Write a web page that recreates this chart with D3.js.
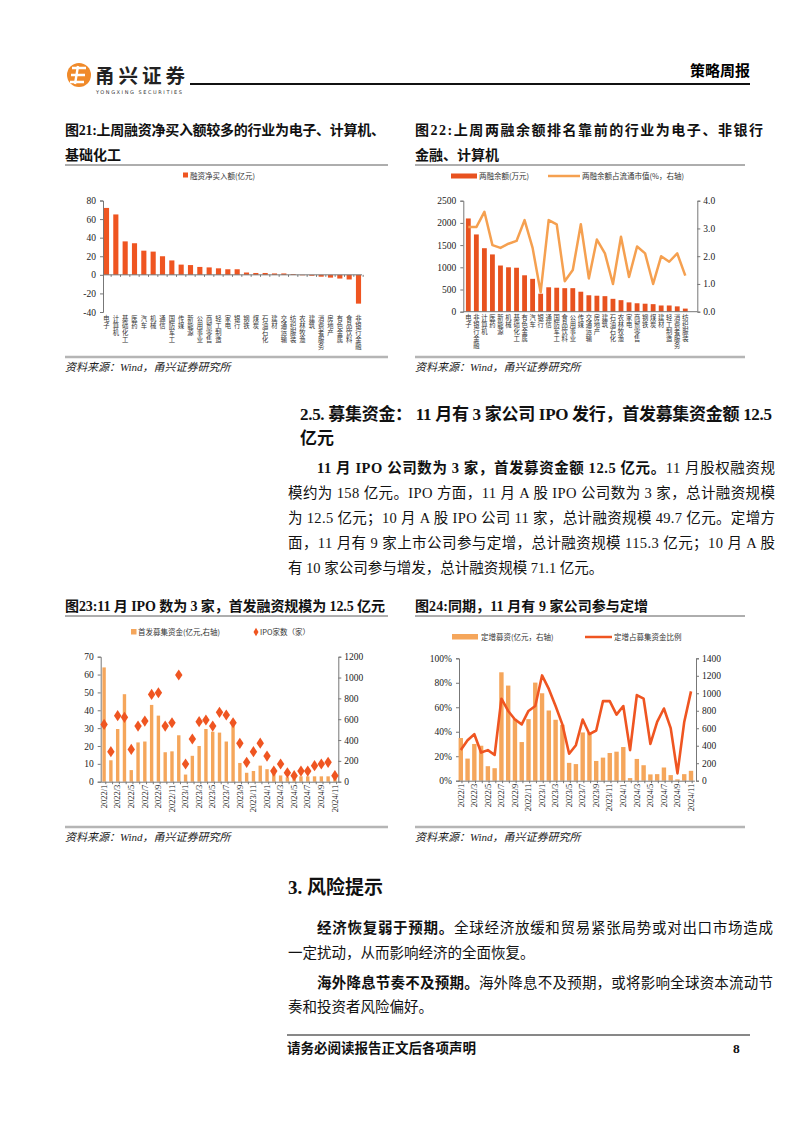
<!DOCTYPE html>
<html>
<head>
<meta charset="utf-8">
<script src="https://cdn.jsdelivr.net/npm/d3@7"></script>
<style>
  body { margin: 0; background: #fff; }
  svg { display: block; }
  .tick text { font-family: "Liberation Serif", "Noto Sans CJK SC"; }
</style>
</head>
<body>
<script>
// ---- data ----
const cats21 = ["电子","计算机","基础化工","医药","汽车","机械","通信","国防军工","传媒","新能源","公用事业","商贸零售","轻工制造","家电","银行","钢铁","煤炭","石油石化","建材","交通运输","纺织服装","农林牧渔","建筑","消费者服务","房地产","有色金属","食品饮料","非银行金融"];
const netBuy21 = [72, 65, 36, 34, 26, 25, 20, 15.5, 11, 10.5, 8.5, 8, 7, 6, 6, 2.5, 2, 2, 1.5, 1.5, 0.8, -0.5, -1, -2, -3, -4, -5, -31];
const ticks21 = [-40, -20, 0, 20, 40, 60, 80];

const cats22 = ["电子","非银行金融","计算机","医药","新能源","机械","基础化工","有色金属","汽车","银行","通信","国防军工","食品饮料","公用事业","传媒","交通运输","房地产","建筑","石油石化","农林牧渔","家电","商贸零售","钢铁","煤炭","建材","轻工制造","消费者服务","纺织服装"];
const balance22 = [2100, 1740, 1430, 1290, 1040, 1000, 990, 820, 740, 405, 550, 540, 530, 530, 450, 370, 360, 350, 290, 260, 210, 190, 180, 170, 140, 140, 120, 70];
const ratio22 = [3.05, 3.05, 3.6, 2.4, 2.3, 2.45, 2.55, 3.3, 2.3, 0.7, 3.3, 3.15, 1.1, 1.5, 3.15, 1.2, 2.6, 2.1, 1.0, 2.7, 1.25, 2.35, 2.1, 1.0, 2.0, 1.8, 2.1, 1.3];
const ticks22L = [0, 500, 1000, 1500, 2000, 2500];
const ticks22R = [0, 1, 2, 3, 4];

const months = [];
for (let y = 2022; y <= 2024; y++) for (let m = 1; m <= 12; m++) if (!(y === 2024 && m === 12)) months.push(y + "/" + m);

const ipoBar23 = [64, 12, 29.5, 49, 6.5, 22, 22.5, 43, 37, 16.5, 17, 26, 4, 14.5, 20, 29.5, 28, 27.5, 22.5, 33, 10.5, 5, 6, 9, 7, 5.5, 3.5, 2.5, 1.8, 3, 3, 3, 3, 3, 3];
const ipoDot23 = [550, 288, 634, 618, 310, 534, 582, 838, 854, 534, 566, 1024, 170, 410, 576, 592, 534, 666, 640, 566, 368, 186, 288, 370, 246, 102, 170, 86, 58, 102, 102, 154, 170, 186, 58];
const ticks23L = [0, 10, 20, 30, 40, 50, 60, 70];
const ticks23R = [0, 200, 400, 600, 800, 1000, 1200];

const dzAmt24 = [488, 253, 420, 400, 166, 143, 1240, 1088, 708, 442, 704, 1122, 1000, 803, 697, 640, 204, 190, 552, 545, 226, 264, 317, 332, 385, 30, 249, 177, 72, 75, 151, 64, 15, 75, 113];
const dzRatio24 = [0.25, 0.33, 0.38, 0.23, 0.25, 0.21, 0.67, 0.57, 0.50, 0.46, 0.57, 0.61, 0.86, 0.75, 0.61, 0.46, 0.22, 0.29, 0.50, 0.38, 0.41, 0.65, 0.65, 0.54, 0.61, 0.25, 0.70, 0.67, 0.30, 0.48, 0.59, 0.43, 0.06, 0.48, 0.73];
const ticks24L = [0, 0.2, 0.4, 0.6, 0.8, 1.0];
const ticks24R = [0, 200, 400, 600, 800, 1000, 1200, 1400];

const SERIF = '"Liberation Serif", "Noto Sans CJK SC"';
const CJK = '"Noto Sans CJK SC", sans-serif';
const RED = "#ef5521";
const LIGHT = "#f5a65b";
const plain = d => String(d);   // "-40", "2500" (no comma, ascii minus)

const svg = d3.select("body").append("svg").attr("width", 802).attr("height", 1133);

// ---- header ----
const logo = svg.append("g");
logo.append("circle").attr("cx", 79).attr("cy", 75).attr("r", 12).attr("fill", "#f08a2a");
logo.append("path").attr("d", "M72 68 L86 68 M71 75 L85 75 M70 82 L84 82 M78 66 L75 84")
  .attr("stroke", "#fff").attr("stroke-width", 2.4).attr("fill", "none");
svg.append("text").attr("x", 95).attr("y", 83).attr("font-family", CJK).attr("font-weight", "bold")
  .attr("font-size", 19.5).attr("textLength", 90).attr("fill", "#222").text("甬兴证券");
svg.append("text").attr("x", 96).attr("y", 94).attr("font-family", '"DejaVu Sans"').attr("font-size", 5)
  .attr("textLength", 86).attr("fill", "#333").text("YONGXING SECURITIES");
svg.append("line").attr("x1", 190).attr("x2", 750).attr("y1", 84).attr("y2", 84).attr("stroke", "#111").attr("stroke-width", 2);
svg.append("text").attr("x", 750).attr("y", 76).attr("text-anchor", "end").attr("font-family", CJK)
  .attr("font-weight", "bold").attr("font-size", 15).text("策略周报");

// ---- text helpers ----
function line(x, y, parts, size, len, weight) {
  const t = svg.append("text").attr("x", x).attr("y", y).attr("font-family", SERIF)
    .attr("font-size", size).attr("fill", "#111");
  if (len) t.attr("textLength", len).attr("lengthAdjust", "spacing");
  parts.forEach(p => {
    const s = typeof p === "string" ? { t: p } : p;
    t.append("tspan").attr("font-weight", s.b || weight ? "bold" : null).text(s.t);
  });
  return t;
}
function title(x, y, txt, len) {
  const t = svg.append("text").attr("x", x).attr("y", y).attr("font-family", SERIF)
    .attr("font-weight", "bold").attr("font-size", 14).attr("fill", "#111").text(txt);
  if (len) t.attr("textLength", len).attr("lengthAdjust", "spacing");
}
function source(x, y) {
  svg.append("text").attr("x", x).attr("y", y).attr("font-family", SERIF).attr("font-style", "italic")
    .attr("font-size", 11).attr("fill", "#222").text("资料来源：Wind，甬兴证券研究所");
}
function rule(x1, x2, y, w, c) {
  svg.append("line").attr("x1", x1).attr("x2", x2).attr("y1", y).attr("y2", y).attr("stroke", c).attr("stroke-width", w);
}

// figure titles
title(65, 135, "图21:上周融资净买入额较多的行业为电子、计算机、", 320);
title(65, 160, "基础化工");
title(415, 135, "图22:上周两融余额排名靠前的行业为电子、非银行", 348);
title(415, 160, "金融、计算机");
rule(65, 388, 165, 0.8, "#333");
rule(415, 745, 165, 0.8, "#333");
rule(65, 388, 357, 2.5, "#b5b5b5");
rule(415, 745, 357, 2.5, "#b5b5b5");
source(65, 371);
source(415, 371);

// section 2.5
line(300, 420, ["2.5. 募集资金：  11 月有 3 家公司 IPO 发行，首发募集资金额 12.5"], 17, 472, true);
line(300, 444, ["亿元"], 17, null, true);
line(317, 473, [{ t: "11 月 IPO 公司数为 3 家，首发募资金额 12.5 亿元。", b: true }, "11 月股权融资规"], 14.5, 458);
line(288, 498, ["模约为 158 亿元。IPO 方面，11 月 A 股 IPO 公司数为 3 家，总计融资规模"], 14.5, 487);
line(288, 523, ["为 12.5 亿元；10 月 A 股 IPO 公司 11 家，总计融资规模 49.7 亿元。定增方"], 14.5, 487);
line(288, 548, ["面，11 月有 9 家上市公司参与定增，总计融资规模 115.3 亿元；10 月 A 股"], 14.5, 487);
line(288, 573, ["有 10 家公司参与增发，总计融资规模 71.1 亿元。"], 14.5);

title(65, 611, "图23:11 月 IPO 数为 3 家，首发融资规模为 12.5 亿元", 320);
title(415, 611, "图24:同期，11 月有 9 家公司参与定增", 233);
rule(65, 388, 616, 0.8, "#333");
rule(415, 745, 616, 0.8, "#333");
rule(65, 388, 827, 2.5, "#b5b5b5");
rule(415, 745, 827, 2.5, "#b5b5b5");
source(65, 841);
source(415, 841);

// section 3
line(288, 894, ["3. 风险提示"], 19, null, true);
line(317, 933, [{ t: "经济恢复弱于预期。", b: true }, "全球经济放缓和贸易紧张局势或对出口市场造成"], 14.5, 456);
line(288, 958, ["一定扰动，从而影响经济的全面恢复。"], 14.5);
line(317, 988, [{ t: "海外降息节奏不及预期。", b: true }, "海外降息不及预期，或将影响全球资本流动节"], 14.5, 456);
line(288, 1012, ["奏和投资者风险偏好。"], 14.5);
rule(287, 750, 1035, 1, "#111");
line(287, 1053, ["请务必阅读报告正文后各项声明"], 13.5, null, true);
line(733, 1053, ["8"], 13.5, null, true);

// ---- chart helpers ----
function styleAxis(g, size) {
  g.select(".domain").attr("stroke", "#777");
  g.selectAll(".tick line").attr("stroke", "#777");
  g.selectAll(".tick text").attr("font-size", size || 9).attr("fill", "#222");
}
function vLabel(g, txt, x, y0, size) {
  const t = g.append("text").attr("font-family", CJK).attr("font-size", size)
    .attr("text-anchor", "middle").attr("fill", "#333");
  [...txt].forEach((c, i) => t.append("tspan").attr("x", x).attr("y", y0 + i * size * 1.1).text(c));
}
function legendText(g, x, y, txt) {
  g.append("text").attr("x", x).attr("y", y).attr("font-family", CJK).attr("font-size", 7.5)
    .attr("fill", "#333").text(txt);
}
function monthAxis(g, x, y) {
  const ax = g.append("g").attr("transform", `translate(0,${y})`)
    .call(d3.axisBottom(x).tickSize(0).tickValues(months.filter((d, i) => i % 2 === 0)));
  ax.select(".domain").attr("stroke", "#777");
  ax.selectAll(".tick text").attr("font-size", 8.5).attr("fill", "#222")
    .attr("transform", "rotate(-90)").attr("text-anchor", "end").attr("dx", -3).attr("dy", "0.32em")
    .attr("x", 0).attr("y", 0);
  g.selectAll(null).data(months).enter().append("line")
    .attr("x1", d => x(d) + x.step() / 2).attr("x2", d => x(d) + x.step() / 2)
    .attr("y1", y).attr("y2", y + 2.5).attr("stroke", "#777");
}

// ---- chart 21 ----
{
  const g = svg.append("g");
  const x = d3.scaleBand().domain(cats21).range([103, 362]).paddingInner(0.45).paddingOuter(0.1);
  const y = d3.scaleLinear().domain([-40, 80]).range([312, 200.5]);
  g.append("rect").attr("x", 183).attr("y", 172.5).attr("width", 5).attr("height", 5).attr("fill", RED);
  legendText(g, 190, 178.5, "融资净买入额(亿元)");
  styleAxis(g.append("g").attr("transform", "translate(103,0)").call(d3.axisLeft(y).tickValues(ticks21).tickSize(3).tickPadding(4).tickFormat(plain)), 9.5);
  g.selectAll(".bar").data(cats21).enter().append("rect")
    .attr("x", d => x(d)).attr("width", x.bandwidth())
    .attr("y", (d, i) => y(Math.max(0, netBuy21[i])))
    .attr("height", (d, i) => Math.abs(y(netBuy21[i]) - y(0)))
    .attr("fill", RED);
  g.append("line").attr("x1", 103).attr("x2", 362).attr("y1", y(0)).attr("y2", y(0)).attr("stroke", "#777");
  cats21.forEach(c => g.append("line").attr("x1", x(c) + x.bandwidth() / 2 + x.step() / 2).attr("x2", x(c) + x.bandwidth() / 2 + x.step() / 2)
    .attr("y1", y(0)).attr("y2", y(0) + 2).attr("stroke", "#777"));
  cats21.forEach(c => vLabel(g, c, x(c) + x.bandwidth() / 2, 321, 6.3));
}

// ---- chart 22 ----
{
  const g = svg.append("g");
  const x = d3.scaleBand().domain(cats22).range([464.3, 689.3]).paddingInner(0.4).paddingOuter(0.2);
  const yL = d3.scaleLinear().domain([0, 2500]).range([311.7, 200.7]);
  const yR = d3.scaleLinear().domain([0, 4]).range([311.7, 200.7]);
  g.append("rect").attr("x", 451).attr("y", 173.5).attr("width", 26).attr("height", 5).attr("fill", "#e8521f");
  legendText(g, 479, 179, "两融余额(万元)");
  g.append("line").attr("x1", 548).attr("x2", 580).attr("y1", 176).attr("y2", 176).attr("stroke", "#f5a050").attr("stroke-width", 2.5);
  legendText(g, 582, 179, "两融余额占流通市值(%，右轴)");
  styleAxis(g.append("g").attr("transform", "translate(463.3,0)").call(d3.axisLeft(yL).tickValues(ticks22L).tickSize(3).tickPadding(4).tickFormat(plain)), 9.5);
  styleAxis(g.append("g").attr("transform", "translate(697.3,0)").call(d3.axisRight(yR).tickValues(ticks22R).tickSize(3).tickPadding(3).tickFormat(d3.format(".1f"))), 9.5);
  g.selectAll(".bar").data(cats22).enter().append("rect")
    .attr("x", d => x(d)).attr("width", x.bandwidth())
    .attr("y", (d, i) => yL(balance22[i])).attr("height", (d, i) => yL(0) - yL(balance22[i]))
    .attr("fill", "#e8521f");
  g.append("line").attr("x1", 463.3).attr("x2", 697.3).attr("y1", yL(0)).attr("y2", yL(0)).attr("stroke", "#777");
  g.append("path").datum(ratio22)
    .attr("d", d3.line().x((d, i) => x(cats22[i]) + x.bandwidth() / 2).y(d => yR(d)))
    .attr("fill", "none").attr("stroke", "#f5a050").attr("stroke-width", 2.5).attr("stroke-linejoin", "round");
  cats22.forEach(c => vLabel(g, c, x(c) + x.bandwidth() / 2, 320, 6.3));
}

// ---- chart 23 ----
{
  const g = svg.append("g");
  const x = d3.scaleBand().domain(months).range([100.7, 338.3]).paddingInner(0.5).paddingOuter(0.25);
  const yL = d3.scaleLinear().domain([0, 70]).range([781.7, 656.7]);
  const yR = d3.scaleLinear().domain([0, 1200]).range([781.7, 656.7]);
  g.append("rect").attr("x", 131).attr("y", 629).attr("width", 5.5).attr("height", 5.5).attr("fill", LIGHT);
  legendText(g, 138, 635, "首发募集资金(亿元,右轴)");
  g.append("path").attr("d", d3.symbol(d3.symbolDiamond, 22)()).attr("transform", "translate(256,632)").attr("fill", RED);
  legendText(g, 260, 635, "IPO家数（家）");
  styleAxis(g.append("g").attr("transform", "translate(100.7,0)").call(d3.axisLeft(yL).tickValues(ticks23L).tickSize(3).tickPadding(4).tickFormat(plain)), 9.5);
  styleAxis(g.append("g").attr("transform", "translate(338.3,0)").call(d3.axisRight(yR).tickValues(ticks23R).tickSize(3).tickPadding(3).tickFormat(plain)), 9.5);
  g.selectAll(".bar").data(months).enter().append("rect")
    .attr("x", d => x(d)).attr("width", x.bandwidth())
    .attr("y", (d, i) => yL(ipoBar23[i])).attr("height", (d, i) => yL(0) - yL(ipoBar23[i]))
    .attr("fill", LIGHT);
  monthAxis(g, x, 781.7);
  g.selectAll(".dot").data(months).enter().append("path")
    .attr("d", d3.symbol(d3.symbolDiamond, 36)())
    .attr("transform", (d, i) => `translate(${x(d) + x.bandwidth() / 2},${yR(ipoDot23[i])}) scale(1.15,1)`)
    .attr("fill", RED);
}

// ---- chart 24 ----
{
  const g = svg.append("g");
  const x = d3.scaleBand().domain(months).range([457.4, 694.4]).paddingInner(0.35).paddingOuter(0.175);
  const yL = d3.scaleLinear().domain([0, 1]).range([780.7, 658.3]);
  const yR = d3.scaleLinear().domain([0, 1400]).range([780.7, 658.3]);
  g.append("rect").attr("x", 452).attr("y", 634).attr("width", 26).attr("height", 5.5).attr("fill", LIGHT);
  legendText(g, 481, 640, "定增募资(亿元，右轴)");
  g.append("line").attr("x1", 585).attr("x2", 612).attr("y1", 637).attr("y2", 637).attr("stroke", RED).attr("stroke-width", 2.5);
  legendText(g, 614, 640, "定增占募集资金比例");
  styleAxis(g.append("g").attr("transform", "translate(459,0)").call(d3.axisLeft(yL).tickValues(ticks24L).tickSize(3).tickPadding(4).tickFormat(d3.format(".0%"))), 9.5);
  styleAxis(g.append("g").attr("transform", "translate(696,0)").call(d3.axisRight(yR).tickValues(ticks24R).tickSize(3).tickPadding(3).tickFormat(plain)), 9.5);
  g.selectAll(".bar").data(months).enter().append("rect")
    .attr("x", d => x(d)).attr("width", x.bandwidth())
    .attr("y", (d, i) => yR(dzAmt24[i])).attr("height", (d, i) => yR(0) - yR(dzAmt24[i]))
    .attr("fill", LIGHT);
  monthAxis(g, x, 780.7);
  g.append("path").datum(dzRatio24)
    .attr("d", d3.line().x((d, i) => x(months[i]) + x.bandwidth() / 2).y(d => yL(d)))
    .attr("fill", "none").attr("stroke", RED).attr("stroke-width", 2.6).attr("stroke-linejoin", "round");
}
</script>
</body>
</html>
